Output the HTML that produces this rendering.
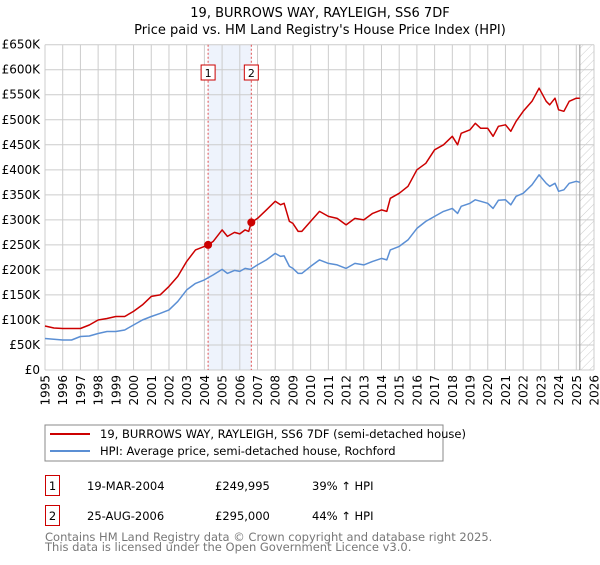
<!DOCTYPE html>
<html><head><meta charset="utf-8"><style>
body{margin:0;background:#fff;}
svg text{font-family:"DejaVu Sans","Liberation Sans",sans-serif;}
</style></head><body>
<svg width="600" height="560" xmlns="http://www.w3.org/2000/svg">
<text x="320" y="17" text-anchor="middle" font-size="13">19, BURROWS WAY, RAYLEIGH, SS6 7DF</text>
<text x="320" y="34" text-anchor="middle" font-size="13">Price paid vs. HM Land Registry's House Price Index (HPI)</text>
<g id="plot"></g>
<rect x="45" y="425" width="398" height="36" fill="#fff" stroke="#888"/>
<line x1="50" y1="434" x2="90" y2="434" stroke="#cc0000" stroke-width="2"/>
<text x="100" y="438" font-size="11.5">19, BURROWS WAY, RAYLEIGH, SS6 7DF (semi-detached house)</text>
<line x1="50" y1="451" x2="90" y2="451" stroke="#5b8fd4" stroke-width="2"/>
<text x="100" y="455" font-size="11.5">HPI: Average price, semi-detached house, Rochford</text>
<g font-size="11.5">
<rect x="45.5" y="475.5" width="14" height="20" fill="#fff" stroke="#cc0000"/>
<text x="52.5" y="490" text-anchor="middle">1</text>
<text x="87" y="490">19-MAR-2004</text><text x="215" y="490">£249,995</text><text x="312" y="490">39% ↑ HPI</text>
<rect x="45.5" y="505.5" width="14" height="20" fill="#fff" stroke="#cc0000"/>
<text x="52.5" y="520" text-anchor="middle">2</text>
<text x="87" y="520">25-AUG-2006</text><text x="215" y="520">£295,000</text><text x="312" y="520">44% ↑ HPI</text>
</g>
<text x="45" y="541" font-size="11.5" fill="#777">Contains HM Land Registry data © Crown copyright and database right 2025.</text>
<text x="45" y="551" font-size="11.5" fill="#777">This data is licensed under the Open Government Licence v3.0.</text>
</svg>
<script>
const yTicks=[0,50,100,150,200,250,300,350,400,450,500,550,600,650];
const yearTicks=[1995,1996,1997,1998,1999,2000,2001,2002,2003,2004,2005,2006,2007,2008,2009,2010,2011,2012,2013,2014,2015,2016,2017,2018,2019,2020,2021,2022,2023,2024,2025,2026];
const saleYears=[2004.21,2006.65];
const saleValues=[249.995,295];
const saleLabels=["1","2"];
const redYears=[1995,1995.5,1996,1997,1997.5,1998,1998.5,1999,1999.5,2000,2000.5,2001,2001.5,2002,2002.5,2003,2003.5,2004,2004.21,2004.5,2005,2005.3,2005.7,2006,2006.3,2006.5,2006.65,2007,2007.5,2008,2008.3,2008.5,2008.8,2009,2009.3,2009.5,2010,2010.5,2011,2011.5,2012,2012.5,2013,2013.5,2014,2014.3,2014.5,2015,2015.5,2016,2016.5,2017,2017.5,2018,2018.3,2018.5,2019,2019.3,2019.6,2020,2020.3,2020.6,2021,2021.3,2021.6,2022,2022.5,2022.9,2023.3,2023.5,2023.8,2024,2024.3,2024.6,2025,2025.2];
const redValues=[88,84,83,83,90,100,103,107,107,117,130,147,150,167,187,217,240,247,250,257,280,267,275,272,280,277,295,303,320,337,330,333,297,293,277,277,297,317,307,303,290,303,300,313,320,317,343,353,367,400,413,440,450,467,450,473,480,493,483,483,467,487,490,477,497,517,537,563,537,530,543,520,517,537,543,543];
const blueYears=[1995,1996,1996.5,1997,1997.5,1998,1998.5,1999,1999.5,2000,2000.5,2001,2001.5,2002,2002.5,2003,2003.5,2004,2004.5,2005,2005.3,2005.7,2006,2006.3,2006.6,2007,2007.5,2008,2008.3,2008.5,2008.8,2009,2009.3,2009.5,2010,2010.5,2011,2011.5,2012,2012.5,2013,2013.5,2014,2014.3,2014.5,2015,2015.5,2016,2016.5,2017,2017.5,2018,2018.3,2018.5,2019,2019.3,2019.6,2020,2020.3,2020.6,2021,2021.3,2021.6,2022,2022.5,2022.9,2023.3,2023.5,2023.8,2024,2024.3,2024.6,2025,2025.2];
const blueValues=[63,60,60,67,68,73,77,77,80,90,100,107,113,120,137,160,173,180,190,201,193,199,197,203,201,210,220,233,227,228,207,203,193,193,207,220,213,210,203,213,210,217,223,220,240,247,260,283,297,307,317,323,313,327,333,340,337,333,323,339,340,330,347,353,370,390,373,367,373,357,360,373,377,375];
const NS="http://www.w3.org/2000/svg";
const X0=45,X1=594,Y0=370,Y1=44.7;
const xs=t=>X0+(t-1995)/(2026-1995)*(X1-X0);
const ys=v=>Y0-v/650*(Y0-Y1);
const g=document.getElementById('plot');
function mk(tag,at){const e=document.createElementNS(NS,tag);for(const k in at)e.setAttribute(k,at[k]);g.appendChild(e);return e;}
// shaded band
let band=mk('rect',{x:xs(saleYears[0]),y:Y1,width:xs(saleYears[1])-xs(saleYears[0]),height:Y0-Y1,fill:'#eef3fc'});


// hatched future
const defs=document.createElementNS(NS,'defs');
defs.innerHTML='<pattern id="hatch" width="6" height="6" patternUnits="userSpaceOnUse" patternTransform="rotate(45)"><line x1="0" y1="0" x2="0" y2="6" stroke="#ccc" stroke-width="1"/></pattern>';
g.appendChild(defs);
let fut=mk('rect',{x:xs(2025.2),y:Y1,width:X1-xs(2025.2),height:Y0-Y1,fill:'url(#hatch)'});


yTicks.forEach(v=>{
  let l=mk('line',{x1:X0,x2:X1,y1:ys(v),y2:ys(v),stroke:'#ccc','stroke-width':1});
  
  
  let t=mk('text',{x:40,y:ys(v)+4,'text-anchor':'end','font-size':12});
  
  
  t.textContent=v===0?'£0':'£'+v+'K';
});
yearTicks.forEach(yr=>{
  let l=mk('line',{x1:xs(yr),x2:xs(yr),y1:Y1,y2:Y0,stroke:'#ccc','stroke-width':1});
  
  
  let t=mk('text',{x:0,y:0,'text-anchor':'end','font-size':12,transform:`translate(${xs(yr)+4.5},${Y0+5}) rotate(-90)`});
  
  
  t.textContent=yr;
});
let ed=mk('line',{x1:xs(2025.2),x2:xs(2025.2),y1:Y1,y2:Y0,stroke:'#999','stroke-width':1});


saleYears.forEach((s,i)=>{
  let l=mk('line',{x1:xs(s),x2:xs(s),y1:Y1,y2:Y0,stroke:'#e05050','stroke-width':1,'stroke-dasharray':'2,2'});
  
  
  let b=mk('rect',{x:xs(s)-7,y:65,width:14,height:15,fill:'#fff',stroke:'#cc0000'});
  
  
  let t=mk('text',{x:xs(s),y:77,'text-anchor':'middle','font-size':11});
  
  
  t.textContent=saleLabels[i];
});
function line(xsA,vs,col,name){
  let p=mk('polyline',{points:xsA.map((t,i)=>xs(t).toFixed(1)+','+ys(vs[i]).toFixed(1)).join(' '),fill:'none',stroke:col,'stroke-width':1.5,'stroke-linejoin':'round'});
  
  
}
line(blueYears,blueValues,'#5b8fd4','hpi-line');
line(redYears,redValues,'#cc0000','property-line');
saleYears.forEach((s,i)=>{
  let c=mk('circle',{cx:xs(s),cy:ys(saleValues[i]),r:4,fill:'#cc0000'});
  
  
});
</script>
</body></html>
